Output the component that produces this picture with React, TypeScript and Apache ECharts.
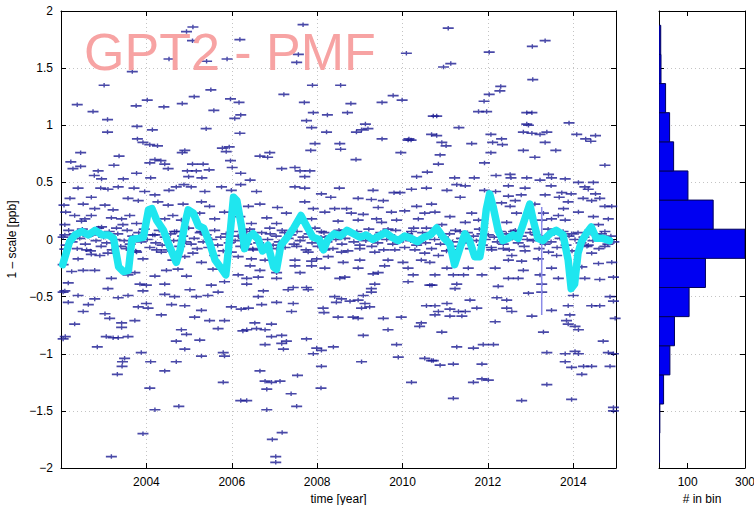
import React, { useEffect, useRef } from "react";
import * as echarts from "echarts";

// Weekly scale offsets [decimal year, 1 - scale in ppb], grouped by period and sign
const posEarly: number[][] = [
  [2005.09, 1.86], [2004.94, 1.82], [2005.08, 1.74], [2006.19, 1.75], [2004.53, 1.58], [2005.41, 1.56],
  [2005.89, 1.58], [2003.67, 1.47], [2003.01, 1.35], [2005.51, 1.31], [2005.12, 1.25], [2002.38, 1.18],
  [2002.75, 1.12], [2004.02, 1.22], [2003.76, 1.17], [2004.41, 1.16], [2004.84, 1.19], [2005.97, 1.23],
  [2006.17, 1.2], [2005.58, 1.13], [2006.21, 1.09], [2006.07, 1.06], [2003.09, 1.05], [2003.09, 0.94],
  [2003.78, 0.99], [2004.14, 0.96], [2005.4, 0.97], [2006.19, 0.93], [2003.79, 0.88], [2003.92, 0.85],
  [2004.08, 0.83], [2004.26, 0.82], [2004.9, 0.78], [2004.84, 0.76], [2005.78, 0.8], [2005.94, 0.81],
  [2005.87, 0.77], [2002.46, 0.76], [2003.36, 0.73], [2002.23, 0.68], [2002.46, 0.64], [2002.28, 0.62],
  [2004.2, 0.7], [2004.34, 0.69], [2004.08, 0.67], [2004.43, 0.66], [2005.08, 0.66], [2005.33, 0.66],
  [2004.96, 0.6], [2005.17, 0.6], [2005.47, 0.61], [2005.97, 0.69], [2006.01, 0.63], [2006.21, 0.58],
  [2002.87, 0.6], [2002.78, 0.56], [2002.95, 0.53], [2003.24, 0.65], [2003.46, 0.53], [2003.77, 0.58],
  [2004.51, 0.62], [2004.1, 0.54], [2004.99, 0.55], [2005.3, 0.54], [2002.4, 0.45], [2002.21, 0.36],
  [2002.71, 0.37], [2002.93, 0.45], [2003.1, 0.44], [2003.34, 0.46], [2003.71, 0.45], [2003.96, 0.42],
  [2004.2, 0.39], [2004.53, 0.43], [2004.7, 0.46], [2004.88, 0.48], [2005.05, 0.46], [2005.37, 0.42],
  [2005.76, 0.46], [2006.21, 0.48], [2005.99, 0.43], [2002.07, 0.3], [2002.52, 0.31], [2002.79, 0.27],
  [2003.03, 0.3], [2003.22, 0.26], [2003.57, 0.36], [2003.81, 0.34], [2004.27, 0.33], [2004.51, 0.3],
  [2004.86, 0.31], [2005.29, 0.33], [2005.48, 0.29], [2002.11, 0.24], [2002.32, 0.21], [2002.56, 0.18],
  [2002.71, 0.21], [2003.18, 0.19], [2003.42, 0.18], [2003.61, 0.21], [2002.09, 0.13], [2002.48, 0.16],
  [2002.95, 0.11], [2003.3, 0.1], [2003.45, 0.13], [2003.77, 0.14], [2004.43, 0.18], [2004.62, 0.21],
  [2004.82, 0.17], [2005.25, 0.23], [2005.6, 0.18], [2005.83, 0.24], [2006.19, 0.2], [2002.09, 0.04],
  [2002.71, 0.04], [2004.2, 0.04], [2004.66, 0.07], [2005.29, 0.07], [2006.3, 0.04],
];

const posMid: number[][] = [
  [2007.67, 1.88], [2007.56, 1.62], [2007.52, 1.55], [2010.09, 1.63], [2007.89, 1.35], [2008.55, 1.35],
  [2007.22, 1.27], [2007.7, 1.2], [2008.79, 1.19], [2009.52, 1.2], [2009.78, 1.26], [2009.99, 1.22],
  [2007.91, 1.11], [2008.24, 1.09], [2008.71, 1.11], [2010.72, 1.08], [2007.75, 1.04], [2007.87, 0.98],
  [2008.22, 0.94], [2009.13, 1.01], [2008.92, 0.94], [2009.04, 0.96], [2009.19, 0.97], [2009.52, 0.88],
  [2010.15, 0.88], [2010.2, 0.87], [2010.13, 0.87], [2010.68, 0.92], [2007.95, 0.84], [2008.53, 0.84],
  [2008.55, 0.79], [2007.85, 0.78], [2006.89, 0.76], [2006.66, 0.73], [2006.84, 0.72], [2009.96, 0.76],
  [2008.91, 0.7], [2007.17, 0.62], [2007.48, 0.63], [2007.6, 0.6], [2007.83, 0.6], [2007.71, 0.55],
  [2006.43, 0.52], [2010.58, 0.59], [2010.33, 0.55], [2007.48, 0.46], [2007.71, 0.45], [2008.52, 0.45],
  [2006.58, 0.42], [2009.31, 0.43], [2010.21, 0.44], [2010.56, 0.45], [2008.32, 0.37], [2008.1, 0.4],
  [2009.8, 0.41], [2009.94, 0.41], [2006.39, 0.29], [2006.66, 0.31], [2007.07, 0.28], [2007.71, 0.33],
  [2007.91, 0.27], [2008.96, 0.36], [2009.27, 0.35], [2009.55, 0.34], [2010.33, 0.29], [2010.68, 0.31],
  [2006.82, 0.19], [2007.28, 0.23], [2008.18, 0.24], [2008.41, 0.27], [2008.69, 0.27], [2008.8, 0.23],
  [2009.08, 0.22], [2009.43, 0.28], [2009.74, 0.24], [2010.05, 0.25], [2010.52, 0.23], [2006.46, 0.14],
  [2007.05, 0.14], [2007.87, 0.18], [2008.49, 0.16], [2008.96, 0.17], [2009.39, 0.18], [2009.51, 0.15],
  [2009.86, 0.17], [2010.37, 0.18], [2006.35, 0.07], [2006.89, 0.1], [2007.24, 0.06], [2008.1, 0.07],
  [2008.65, 0.08], [2009.12, 0.05], [2009.66, 0.09], [2010.21, 0.07], [2010.56, 0.1],
];

const posLate: number[][] = [
  [2011.07, 1.85], [2013.34, 1.74], [2013.04, 1.69], [2012.03, 1.64], [2010.96, 1.51], [2011.13, 1.54],
  [2013.05, 1.4], [2012.3, 1.34], [2012.28, 1.3], [2012.03, 1.27], [2011.91, 1.21], [2011.78, 1.12],
  [2011.97, 1.12], [2012.91, 1.11], [2013.03, 1.11], [2010.8, 1.08], [2012.91, 1.01], [2012.95, 1.0],
  [2013.9, 1.02], [2011.32, 0.98], [2012.83, 0.94], [2013.03, 0.93], [2013.22, 0.92], [2013.38, 0.94],
  [2012.07, 0.92], [2014.08, 0.92], [2014.29, 0.88], [2014.41, 0.86], [2014.52, 0.91], [2010.8, 0.91],
  [2010.92, 0.85], [2011.02, 0.82], [2012.32, 0.88], [2012.11, 0.85], [2012.34, 0.83], [2011.62, 0.84],
  [2013.34, 0.85], [2012.07, 0.76], [2012.83, 0.78], [2013.59, 0.78], [2013.1, 0.72], [2010.88, 0.74],
  [2010.84, 0.66], [2011.92, 0.67], [2014.74, 0.65], [2011.22, 0.54], [2011.68, 0.54], [2012.19, 0.56],
  [2012.52, 0.57], [2012.54, 0.54], [2012.91, 0.54], [2013.22, 0.52], [2013.42, 0.57], [2013.49, 0.54],
  [2013.81, 0.53], [2014.12, 0.5], [2014.47, 0.5], [2011.27, 0.48], [2011.47, 0.47], [2012.48, 0.47],
  [2012.87, 0.45], [2013.48, 0.47], [2014.27, 0.46], [2011.04, 0.43], [2011.92, 0.43], [2012.18, 0.42],
  [2013.73, 0.41], [2013.95, 0.4], [2014.35, 0.44], [2014.52, 0.4], [2011.35, 0.37], [2012.48, 0.38],
  [2012.78, 0.39], [2013.34, 0.39], [2013.67, 0.37], [2014.23, 0.36], [2014.43, 0.34], [2014.62, 0.36],
  [2012.32, 0.32], [2012.64, 0.34], [2013.1, 0.31], [2013.88, 0.33], [2014.74, 0.29], [2014.9, 0.29],
  [2010.76, 0.24], [2011.11, 0.2], [2011.62, 0.23], [2012.52, 0.29], [2012.67, 0.23], [2013.3, 0.23],
  [2013.77, 0.27], [2013.65, 0.21], [2014.12, 0.24], [2014.47, 0.2], [2010.92, 0.13], [2011.47, 0.15],
  [2011.78, 0.17], [2012.44, 0.15], [2013.26, 0.17], [2013.49, 0.18], [2013.81, 0.17], [2014.82, 0.18],
  [2011.35, 0.07], [2011.86, 0.05], [2012.6, 0.07], [2013.06, 0.09], [2013.96, 0.05], [2014.59, 0.13],
  [2014.66, 0.05],
];

const negEarly: number[][] = [
  [2002.09, -0.085], [2002.6, -0.09], [2002.71, -0.13], [2002.4, -0.17], [2002.91, -0.14], [2003.1, -0.12],
  [2003.53, -0.08], [2003.77, -0.11], [2003.92, -0.17], [2004.24, -0.09], [2004.35, -0.11], [2004.62, -0.18],
  [2004.9, -0.15], [2005.09, -0.12], [2005.29, -0.2], [2005.6, -0.14], [2005.99, -0.11], [2006.15, -0.15],
  [2002.05, -0.22], [2002.25, -0.28], [2002.52, -0.27], [2002.79, -0.27], [2003.18, -0.34], [2003.57, -0.31],
  [2003.73, -0.29], [2004.2, -0.32], [2004.47, -0.27], [2004.74, -0.26], [2004.94, -0.32], [2005.56, -0.26],
  [2005.83, -0.37], [2006.15, -0.31], [2002.17, -0.38], [2003.1, -0.43], [2003.85, -0.39], [2004.0, -0.4],
  [2004.43, -0.39], [2005.02, -0.44], [2005.52, -0.4], [2005.68, -0.46], [2002.09, -0.45], [2002.4, -0.49],
  [2002.79, -0.52], [2003.34, -0.51], [2003.57, -0.49], [2003.92, -0.45], [2004.43, -0.48], [2004.66, -0.5],
  [2005.17, -0.5], [2005.44, -0.49], [2002.17, -0.55], [2002.64, -0.57], [2004.0, -0.56], [2003.81, -0.59],
  [2004.04, -0.6], [2004.59, -0.57], [2004.9, -0.58], [2005.99, -0.59], [2006.22, -0.61], [2002.52, -0.63],
  [2003.03, -0.65], [2004.35, -0.66], [2005.29, -0.62], [2003.14, -0.69], [2003.42, -0.73], [2003.73, -0.71],
  [2005.13, -0.68], [2005.48, -0.71], [2005.83, -0.71], [2002.32, -0.74], [2003.42, -0.77], [2005.68, -0.78],
  [2006.26, -0.8], [2004.82, -0.79], [2004.94, -0.83], [2002.1, -0.85], [2002.05, -0.87], [2003.06, -0.85],
  [2003.22, -0.86], [2003.34, -0.86], [2003.57, -0.85], [2004.7, -0.89], [2005.25, -0.88], [2002.85, -0.94],
  [2004.9, -0.96], [2003.88, -0.99], [2005.8, -0.99], [2005.83, -1.02], [2005.29, -1.02], [2003.49, -1.04],
  [2003.44, -1.07], [2004.1, -1.07], [2004.7, -1.07], [2003.43, -1.11], [2004.43, -1.15], [2003.32, -1.18],
  [2005.8, -1.25], [2004.08, -1.3], [2006.21, -1.41], [2004.76, -1.46], [2004.2, -1.49], [2003.92, -1.7],
  [2003.18, -1.9], [2002.05, -0.46],
];

const negMid: number[][] = [
  [2006.5, -0.09], [2007.05, -0.08], [2007.52, -0.06], [2007.79, -0.11], [2008.18, -0.09], [2008.57, -0.11],
  [2009.0, -0.08], [2009.35, -0.11], [2009.82, -0.09], [2010.29, -0.09], [2010.52, -0.12], [2006.46, -0.17],
  [2006.78, -0.18], [2007.48, -0.18], [2007.87, -0.19], [2007.99, -0.17], [2008.26, -0.15], [2008.61, -0.2],
  [2009.0, -0.18], [2009.66, -0.18], [2010.01, -0.2], [2010.44, -0.18], [2010.64, -0.2], [2006.43, -0.23],
  [2007.48, -0.23], [2007.87, -0.23], [2008.18, -0.25], [2008.96, -0.25], [2009.58, -0.23], [2010.13, -0.25],
  [2006.66, -0.27], [2007.05, -0.29], [2007.6, -0.29], [2009.31, -0.3], [2009.43, -0.29], [2010.25, -0.31],
  [2006.35, -0.34], [2006.62, -0.33], [2007.05, -0.34], [2008.53, -0.34], [2008.65, -0.33], [2009.35, -0.39],
  [2010.13, -0.37], [2010.64, -0.4], [2006.35, -0.39], [2007.32, -0.44], [2007.44, -0.42], [2007.75, -0.42],
  [2007.79, -0.44], [2006.74, -0.45], [2009.27, -0.43], [2009.08, -0.49], [2009.27, -0.46], [2006.62, -0.5],
  [2008.41, -0.5], [2008.57, -0.52], [2008.45, -0.55], [2008.77, -0.54], [2008.96, -0.53], [2009.12, -0.56],
  [2006.7, -0.57], [2007.05, -0.55], [2007.44, -0.56], [2009.04, -0.6], [2009.23, -0.59], [2010.56, -0.58],
  [2006.39, -0.6], [2008.14, -0.6], [2007.4, -0.63], [2008.16, -0.64], [2010.76, -0.66], [2008.49, -0.68],
  [2008.84, -0.68], [2008.96, -0.69], [2009.55, -0.69], [2009.97, -0.68], [2006.54, -0.73], [2006.93, -0.74],
  [2010.44, -0.73], [2006.35, -0.79], [2006.58, -0.78], [2006.78, -0.79], [2010.4, -0.76], [2009.66, -0.79],
  [2006.93, -0.85], [2007.17, -0.84], [2009.08, -0.84], [2007.75, -0.87], [2006.78, -0.92], [2007.17, -0.91],
  [2007.28, -0.89], [2007.21, -0.96], [2008.38, -0.94], [2009.86, -0.92], [2007.99, -0.95], [2008.1, -0.97],
  [2007.91, -1.0], [2009.9, -1.03], [2010.52, -1.04], [2010.68, -1.06], [2009.04, -1.07], [2008.1, -1.11],
  [2006.66, -1.15], [2007.54, -1.19], [2006.78, -1.24], [2006.93, -1.25], [2007.13, -1.24], [2006.82, -1.31],
  [2010.21, -1.25], [2008.09, -1.3], [2007.39, -1.35], [2006.35, -1.41], [2006.82, -1.49], [2007.52, -1.46],
  [2007.18, -1.69], [2006.95, -1.75], [2007.03, -1.9], [2007.03, -1.95],
];

const negLate: number[][] = [
  [2010.84, -0.14], [2011.15, -0.09], [2012.09, -0.09], [2012.36, -0.08], [2012.56, -0.14], [2012.87, -0.1],
  [2013.42, -0.11], [2013.61, -0.14], [2014.35, -0.05], [2014.74, -0.06], [2014.43, -0.12], [2012.48, -0.18],
  [2012.79, -0.19], [2013.18, -0.17], [2014.2, -0.24], [2014.59, -0.21], [2014.9, -0.2], [2011.04, -0.25],
  [2011.54, -0.25], [2012.17, -0.25], [2012.83, -0.27], [2013.49, -0.25], [2010.76, -0.31], [2011.19, -0.31],
  [2011.43, -0.31], [2011.86, -0.31], [2012.48, -0.34], [2012.71, -0.34], [2013.22, -0.31], [2013.65, -0.34],
  [2014.27, -0.34], [2014.62, -0.35], [2014.94, -0.33], [2010.69, -0.4], [2011.23, -0.43], [2011.27, -0.39],
  [2012.24, -0.41], [2013.26, -0.39], [2013.26, -0.46], [2012.95, -0.47], [2014.0, -0.49], [2014.86, -0.5],
  [2014.94, -0.54], [2011.04, -0.56], [2011.58, -0.53], [2011.74, -0.6], [2012.21, -0.51], [2012.44, -0.53],
  [2012.44, -0.6], [2013.88, -0.58], [2014.43, -0.58], [2014.62, -0.58], [2010.76, -0.58], [2010.84, -0.63],
  [2011.11, -0.61], [2011.31, -0.63], [2011.47, -0.63], [2011.11, -0.67], [2011.39, -0.67], [2012.56, -0.63],
  [2013.03, -0.67], [2013.49, -0.62], [2013.92, -0.66], [2012.17, -0.72], [2013.84, -0.71], [2013.88, -0.74],
  [2014.04, -0.76], [2014.12, -0.79], [2014.98, -0.69], [2010.92, -0.81], [2013.3, -0.81], [2014.7, -0.89],
  [2011.27, -0.94], [2011.66, -0.95], [2011.89, -0.92], [2012.13, -0.92], [2013.38, -0.99], [2013.81, -1.0],
  [2014.04, -0.98], [2014.12, -1.0], [2014.82, -0.99], [2014.94, -1.0], [2010.72, -1.06], [2010.88, -1.1],
  [2011.19, -1.09], [2011.86, -1.09], [2013.81, -1.07], [2013.96, -1.12], [2014.24, -1.11], [2014.43, -1.11],
  [2014.86, -1.11], [2014.2, -1.18], [2011.86, -1.22], [2012.01, -1.23], [2011.66, -1.25], [2013.38, -1.27],
  [2011.19, -1.39], [2012.79, -1.41], [2013.96, -1.4], [2014.94, -1.47], [2014.94, -1.5],
];

// Crowded solutions close to zero
const coreBand: number[][] = [
  [2002.05, 0.02], [2002.12, -0.05], [2002.18, 0.08], [2002.26, -0.02], [2002.31, 0.05], [2002.38, -0.08],
  [2002.44, 0.01], [2002.5, 0.09], [2002.57, -0.04], [2002.63, 0.03], [2002.69, -0.1], [2002.75, 0.06],
  [2002.82, -0.01], [2002.88, 0.1], [2002.94, -0.06], [2003.0, 0.02], [2003.07, -0.03], [2003.13, 0.07],
  [2003.2, -0.09], [2003.27, 0.0], [2003.33, 0.05], [2003.4, -0.06], [2003.48, -0.01], [2003.55, 0.08],
  [2003.62, -0.04], [2003.68, 0.03], [2003.75, -0.1], [2003.82, 0.06], [2003.88, -0.02], [2003.95, 0.09],
  [2004.02, 0.0], [2004.08, -0.07], [2004.15, 0.04], [2004.22, -0.03], [2004.3, 0.08], [2004.37, -0.05],
  [2004.44, 0.02], [2004.5, -0.09], [2004.57, 0.05], [2004.64, -0.01], [2004.71, 0.07], [2004.78, -0.06],
  [2004.85, 0.03], [2004.92, -0.02], [2004.99, 0.1], [2005.05, -0.04], [2005.12, 0.01], [2005.19, -0.08],
  [2005.26, 0.06], [2005.33, -0.02], [2005.4, 0.04], [2005.46, -0.07], [2005.53, 0.0], [2005.6, 0.08],
  [2005.67, -0.05], [2005.74, 0.02], [2005.8, -0.1], [2005.87, 0.05], [2005.94, -0.03], [2006.02, 0.07],
  [2006.08, -0.01], [2006.15, 0.03], [2006.21, -0.06], [2006.28, 0.01], [2006.35, -0.04], [2006.42, 0.09],
  [2006.49, -0.08], [2006.56, 0.02], [2006.63, -0.03], [2006.7, 0.06], [2006.77, -0.1], [2006.84, 0.0],
  [2006.9, 0.05], [2006.97, -0.05], [2007.04, 0.03], [2007.11, -0.02], [2007.18, 0.08], [2007.25, -0.07],
  [2007.32, 0.01], [2007.39, 0.04], [2007.46, -0.04], [2007.53, 0.07], [2007.6, -0.01], [2007.67, 0.02],
  [2007.74, -0.09], [2007.81, 0.05], [2007.88, -0.03], [2007.95, 0.1], [2008.02, -0.06], [2008.09, 0.02],
  [2008.16, 0.06], [2008.23, -0.02], [2008.3, 0.03], [2008.37, -0.08], [2008.44, 0.0], [2008.51, 0.08],
  [2008.58, -0.04], [2008.65, 0.01], [2008.72, -0.1], [2008.79, 0.05], [2008.86, -0.02], [2008.93, 0.07],
  [2009.0, -0.05], [2009.07, 0.02], [2009.14, -0.01], [2009.21, 0.09], [2009.28, -0.06], [2009.35, 0.03],
  [2009.42, -0.03], [2009.49, 0.06], [2009.56, -0.09], [2009.63, 0.0], [2009.7, 0.04], [2009.77, -0.04],
  [2009.84, 0.08], [2009.91, -0.02], [2009.98, 0.02], [2010.05, -0.07], [2010.12, 0.05], [2010.19, -0.01],
  [2010.26, 0.1], [2010.33, -0.05], [2010.4, 0.01], [2010.47, 0.06], [2010.54, -0.03], [2010.61, 0.03],
  [2010.68, -0.08], [2010.75, 0.0], [2010.82, 0.07], [2010.89, -0.04], [2010.96, 0.02], [2011.03, -0.1],
  [2011.1, 0.05], [2011.17, -0.02], [2011.24, 0.08], [2011.31, -0.06], [2011.38, 0.01], [2011.45, -0.03],
  [2011.52, 0.06], [2011.59, -0.08], [2011.66, 0.03], [2011.73, -0.01], [2011.8, 0.09], [2011.87, -0.05],
  [2011.94, 0.0], [2012.01, 0.04], [2012.08, -0.07], [2012.15, 0.02], [2012.22, -0.02], [2012.29, 0.07],
  [2012.36, -0.04], [2012.43, 0.05], [2012.5, -0.09], [2012.57, 0.01], [2012.64, 0.08], [2012.71, -0.03],
  [2012.78, 0.03], [2012.85, -0.06], [2012.92, 0.0], [2012.99, 0.06], [2013.06, -0.01], [2013.13, 0.04],
  [2013.2, -0.08], [2013.27, 0.02], [2013.34, -0.04], [2013.41, 0.09], [2013.48, -0.02], [2013.55, 0.05],
  [2013.62, -0.07], [2013.69, 0.01], [2013.76, 0.07], [2013.83, -0.05], [2013.9, 0.03], [2013.97, -0.1],
  [2014.04, 0.0], [2014.11, 0.06], [2014.18, -0.03], [2014.25, 0.02], [2014.32, -0.06], [2014.39, 0.08],
  [2014.46, -0.01], [2014.53, 0.04], [2014.6, -0.08], [2014.67, 0.01], [2014.74, 0.07], [2014.81, -0.04],
  [2014.88, 0.03], [2014.95, -0.02],
];

// One solution with a large formal error
const errorBar: number[][] = [[2013.26, 0.285], [2013.26, -0.66]];

// Smoothed scale series
const smoothEarly: number[][] = [
  [2002.04, -0.22], [2002.12, -0.12], [2002.2, -0.02], [2002.33, 0.04], [2002.49, 0.07], [2002.64, 0.04],
  [2002.8, 0.08], [2002.96, 0.04], [2003.11, 0.04], [2003.23, 0.01], [2003.35, -0.24], [2003.46, -0.28],
  [2003.58, -0.27], [2003.66, 0.0], [2003.81, 0.01], [2003.93, 0.02], [2004.05, 0.26], [2004.13, 0.27],
  [2004.24, 0.17], [2004.4, 0.08], [2004.52, -0.04], [2004.7, -0.2], [2004.79, -0.09], [2004.91, 0.15],
  [2004.98, 0.26], [2005.1, 0.23], [2005.22, 0.12], [2005.34, 0.1], [2005.49, -0.04], [2005.61, -0.18],
  [2005.73, -0.24], [2005.86, -0.31], [2005.96, 0.05], [2006.04, 0.37], [2006.12, 0.34], [2006.23, 0.11],
];
const smoothMid: number[][] = [
  [2006.3, -0.08], [2006.4, 0.02], [2006.5, 0.05], [2006.62, 0.0], [2006.72, -0.1], [2006.85, -0.05],
  [2006.98, -0.24], [2007.05, -0.26], [2007.15, -0.05], [2007.3, 0.02], [2007.45, 0.1], [2007.62, 0.21],
  [2007.75, 0.12], [2007.9, 0.02], [2008.05, 0.0], [2008.15, -0.09], [2008.25, 0.0], [2008.4, 0.05],
  [2008.55, 0.03], [2008.7, 0.08], [2008.85, 0.05], [2009.0, 0.02], [2009.15, 0.04], [2009.3, 0.0],
  [2009.45, 0.03], [2009.6, 0.06], [2009.75, 0.02], [2009.9, -0.01], [2010.05, 0.03], [2010.2, 0.01],
  [2010.35, -0.02], [2010.5, 0.02], [2010.65, 0.04], [2010.8, 0.1], [2010.95, 0.02],
];
const smoothLate: number[][] = [
  [2011.11, -0.04], [2011.22, -0.22], [2011.34, -0.08], [2011.46, 0.05], [2011.57, -0.01], [2011.69, -0.15],
  [2011.81, -0.15], [2011.89, 0.02], [2011.96, 0.26], [2012.04, 0.4], [2012.12, 0.29], [2012.24, 0.08],
  [2012.35, -0.01], [2012.47, 0.01], [2012.59, 0.04], [2012.71, 0.01], [2012.82, 0.13], [2012.98, 0.31],
  [2013.06, 0.17], [2013.17, 0.01], [2013.29, -0.01], [2013.45, 0.05], [2013.6, 0.08], [2013.76, 0.04],
  [2013.88, -0.18], [2013.95, -0.43], [2014.03, -0.39], [2014.11, -0.12], [2014.19, -0.02], [2014.3, 0.05],
  [2014.42, 0.11], [2014.54, 0.01], [2014.69, 0.01], [2014.85, -0.01],
];

// Histogram of all solutions: bin centres [ppb] and counts
const binWidth = 0.255;
const histCenters: number[] = [
  -1.8225, -1.5675, -1.3125, -1.0575, -0.8025, -0.5475, -0.2925, -0.0375,
  0.2175, 0.4725, 0.7275, 0.9825, 1.2375, 1.4925, 1.7475,
];
const histCounts: number[] = [2, 3, 16, 38, 54, 105, 162, 300, 189, 101, 51, 37, 23, 7, 6];

const yTicks = { min: -2, max: 2, interval: 0.5 };
const yearTicks = { min: 2002, max: 2015, interval: 2 };
const countTicks: number[] = [100, 300];

const FONT = '"Liberation Sans", Arial, Helvetica, sans-serif';
const gridLine = { show: true, lineStyle: { color: "#c4c4c4", type: [1, 3] as any, width: 1 } };
const frameLine = { show: true, onZero: false, lineStyle: { color: "#000", width: 1 } };
const innerTick = { show: true, inside: true, length: 5, lineStyle: { color: "#000", width: 1 } };
const minusFmt = (v: number) => (v < 0 ? "\u2212" + Math.abs(v) : String(v));

export default function App() {
  const ref = useRef<HTMLDivElement>(null);

  useEffect(() => {
    if (!ref.current) return;
    const chart = echarts.init(ref.current, null, { renderer: "svg" });

    const scatterData = [...posEarly, ...posMid, ...posLate, ...negEarly, ...negMid, ...negLate, ...coreBand];
    const smoothData = [...smoothEarly, ...smoothMid, ...smoothLate];
    const histData = histCenters.map((c, i) => [c, histCounts[i]]);

    const option: any = {
      animation: false,
      backgroundColor: "#fff",
      textStyle: { fontFamily: FONT },
      grid: [
        { left: 61, top: 11, width: 555, height: 457, containLabel: false, outerBoundsMode: "none" },
        { left: 659, top: 11, width: 86, height: 457, containLabel: false, outerBoundsMode: "none" },
      ],
      xAxis: [
        {
          gridIndex: 0, type: "value", position: "bottom", ...yearTicks,
          axisLine: frameLine, axisTick: innerTick, splitLine: gridLine,
          axisLabel: {
            color: "#000", fontSize: 12, fontFamily: FONT, margin: 8,
            formatter: (v: number) => (v === yearTicks.min || v === yearTicks.max ? "" : String(v)),
          },
          name: "time [year]", nameLocation: "middle", nameGap: 24,
          nameTextStyle: { color: "#000", fontSize: 12, fontFamily: FONT },
        },
        {
          gridIndex: 0, type: "value", position: "top", ...yearTicks,
          axisLine: frameLine, axisTick: innerTick, splitLine: { show: false }, axisLabel: { show: false },
        },
        {
          gridIndex: 1, type: "value", position: "bottom", min: 0, max: 300,
          axisLine: frameLine,
          axisTick: { ...innerTick, customValues: countTicks },
          splitLine: { show: false },
          axisLabel: { color: "#000", fontSize: 12, fontFamily: FONT, margin: 8, customValues: countTicks },
          name: "# in bin", nameLocation: "middle", nameGap: 24,
          nameTextStyle: { color: "#000", fontSize: 12, fontFamily: FONT },
        },
        {
          gridIndex: 1, type: "value", position: "top", min: 0, max: 300,
          axisLine: frameLine,
          axisTick: { ...innerTick, customValues: countTicks },
          splitLine: { show: false }, axisLabel: { show: false },
        },
      ],
      yAxis: [
        {
          gridIndex: 0, type: "value", position: "left", ...yTicks,
          axisLine: frameLine, axisTick: innerTick, splitLine: gridLine,
          axisLabel: { color: "#000", fontSize: 12, fontFamily: FONT, margin: 8, formatter: minusFmt },
          name: "1 \u2013 scale [ppb]", nameLocation: "middle", nameGap: 37, nameRotate: 90,
          nameTextStyle: { color: "#000", fontSize: 12, fontFamily: FONT },
        },
        {
          gridIndex: 0, type: "value", position: "right", ...yTicks,
          axisLine: frameLine, axisTick: innerTick, splitLine: { show: false }, axisLabel: { show: false },
        },
        {
          gridIndex: 1, type: "value", position: "left", ...yTicks,
          axisLine: frameLine, axisTick: innerTick, splitLine: gridLine, axisLabel: { show: false },
        },
        {
          gridIndex: 1, type: "value", position: "right", ...yTicks,
          axisLine: frameLine, axisTick: innerTick, splitLine: { show: false }, axisLabel: { show: false },
        },
      ],
      graphic: [
        {
          type: "text", left: 84, top: 26, z: 100,
          style: { text: "GPT2 - PMF", fill: "#f7a3a3", font: `normal 52px ${FONT}` },
        },
      ],
      series: [
        {
          type: "scatter", xAxisIndex: 0, yAxisIndex: 0, data: scatterData, z: 2,
          symbol: "path://M0,2.8h22v3.4h-22z M9.6,0h2.8v9h-2.8z",
          symbolSize: [11, 4.5],
          itemStyle: { color: "#1c1c92" },
          silent: true,
        },
        {
          type: "line", xAxisIndex: 0, yAxisIndex: 0, data: errorBar, z: 3,
          symbol: "none", lineStyle: { color: "#8b8be8", width: 1.5 }, silent: true,
        },
        {
          type: "line", xAxisIndex: 0, yAxisIndex: 0, data: smoothData, z: 4,
          symbol: "none", lineStyle: { color: "#1fe6ef", width: 7.5, join: "round", cap: "round" },
          silent: true,
        },
        {
          type: "custom", xAxisIndex: 2, yAxisIndex: 2, data: histData, z: 3, clip: true,
          renderItem: (_params: any, api: any) => {
            const c = api.value(0);
            const n = api.value(1);
            const p0 = api.coord([0, c + binWidth / 2]);
            const p1 = api.coord([n, c - binWidth / 2]);
            return {
              type: "rect",
              shape: { x: p0[0], y: p0[1], width: p1[0] - p0[0], height: p1[1] - p0[1] },
              style: { fill: "#0000f2", stroke: "#00005a", lineWidth: 1 },
            };
          },
        },
      ],
    };

    chart.setOption(option);
    return () => chart.dispose();
  }, []);

  return (
    <div
      ref={ref}
      style={{ position: "fixed", left: 0, top: 0, width: 754, height: 505, background: "#fff" }}
    />
  );
}
